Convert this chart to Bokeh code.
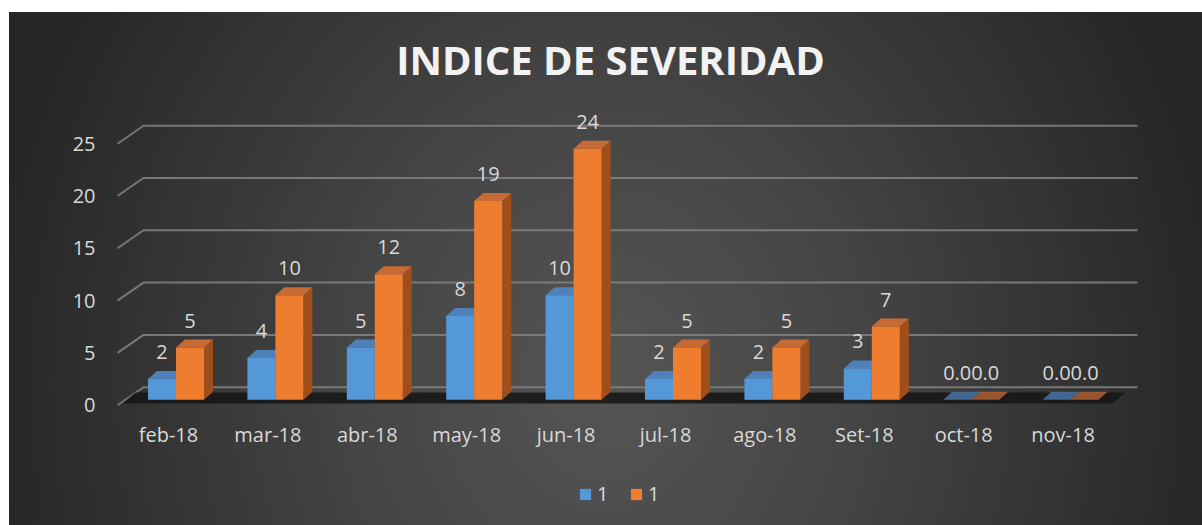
from bokeh.plotting import figure
from bokeh.models import Range1d, FixedTicker, Legend, LegendItem
from bokeh.core.properties import value
from bokeh.embed import file_html
from bokeh.resources import INLINE

# ---------------- data ----------------
months = ["feb-18", "mar-18", "abr-18", "may-18", "jun-18",
          "jul-18", "ago-18", "Set-18", "oct-18", "nov-18"]
serie_azul = [2, 4, 5, 8, 10, 2, 2, 3, 0, 0]
serie_naranja = [5, 10, 12, 19, 24, 5, 5, 7, 0, 0]
series_names = ["1", "1"]
y_ticks = [0, 5, 10, 15, 20, 25]
title_text = "INDICE DE SEVERIDAD"

# ---------------- layout constants (page pixels) ----------------
FIG_X0, FIG_Y0 = 9, 12
W, H = 1193, 513
FRAME_L = 105
PX_X, X0_PX = 99.4, 168.0     # px per category, page x of first category
PX_Y, Y0_PX = 10.46, 404.7    # px per unit, page y of value 0 tick


def px(P):
    return (P - X0_PX) / PX_X


def py(P):
    return (Y0_PX - P) / PX_Y


def dx(d):
    return d / PX_X


def dy(d):
    return d / PX_Y


TXT = "#d9d9d9"
FONT = "Open Sans"

p = figure(width=W, height=H, output_backend="svg", toolbar_location=None,
           x_range=Range1d(px(FRAME_L), px(FIG_X0 + W)),
           y_range=Range1d(py(FIG_Y0 + H), py(FIG_Y0)),
           min_border_left=FRAME_L - FIG_X0, min_border_right=0,
           min_border_top=0, min_border_bottom=0)
p.background_fill_color = None
p.border_fill_color = None
p.outline_line_color = None
p.styles = {
    "background": "radial-gradient(ellipse 52% 140% at 50% 72%, #555555 0%, #454545 40%, #262626 100%)",
    "margin-left": "9px",
    "margin-top": "12px",
    "border-radius": "0px",
}
p.xgrid.visible = False
p.ygrid.visible = False

# axes
for ax in (p.xaxis[0], p.yaxis[0]):
    ax.axis_line_color = None
    ax.major_tick_line_color = None
    ax.minor_tick_line_color = None
    ax.major_tick_out = 0
    ax.major_tick_in = 0
    ax.major_label_text_color = TXT
    ax.major_label_text_font = FONT
    ax.major_label_text_font_size = "20px"
p.yaxis.ticker = FixedTicker(ticks=y_ticks)
p.yaxis.major_label_standoff = 10
p.xaxis.ticker = FixedTicker(ticks=list(range(len(months))))
p.xaxis.major_label_overrides = {i: m for i, m in enumerate(months)}
p.xaxis.major_label_standoff = -105

# back-wall gridlines with perspective slant
gx = [px(117), px(143), px(1137)]
back = dy(18)
p.multi_line(xs=[gx for _ in y_ticks],
             ys=[[v, v + back, v + back] for v in y_ticks],
             line_color="#808080", line_width=2, line_alpha=0.9)

# floor shadow
p.patch(x=[px(122), px(1112), px(1125), px(135)],
        y=[py(403), py(403), py(392), py(392)],
        fill_color="#151515", fill_alpha=0.85, line_color=None)

# 3-D columns
base = py(399.3)
bw = dx(28)
shift = dx(7.5)
ddx, ddy = dx(9), dy(8)
styles = [
    dict(front="#5598d8", top="#4f80b8", side="#3d6c9c"),
    dict(front="#ee7d30", top="#c66a36", side="#9e4f1c"),
]
fronts = []
for s, vals in enumerate([serie_azul, serie_naranja]):
    st = styles[s]
    x0 = [i + shift - bw + s * bw for i in range(len(vals))]
    x1 = [a + bw for a in x0]
    tops = [base + v for v in vals]
    alphas = [1.0 if v > 0 else 0.75 for v in vals]
    p.patches(xs=[[b, b + ddx, b + ddx, b] for b in x1],
              ys=[[base, base + ddy, t + ddy, t] for t in tops],
              fill_color=st["side"], fill_alpha=alphas, line_color=None)
    p.patches(xs=[[a, b, b + ddx, a + ddx] for a, b in zip(x0, x1)],
              ys=[[t, t, t + ddy, t + ddy] for t in tops],
              fill_color=st["top"], fill_alpha=alphas, line_color=None)
    r = p.quad(left=x0, right=x1, bottom=[base] * len(vals), top=tops,
               fill_color=st["front"], line_color=None)
    fronts.append(r)
    p.text(x=[(a + b) / 2 for a, b in zip(x0, x1)],
           y=[t + dy(27) for t in tops],
           text=[str(v) if v else "0.0" for v in vals],
           text_color=TXT, text_font=value(FONT), text_font_size="20px",
           text_align="center", text_baseline="middle")

# title
p.text(x=[px(610)], y=[py(59)], text=[title_text],
       text_color="#f2f2f2", text_font=value(FONT), text_font_size="40px",
       text_font_style="bold", text_align="center", text_baseline="middle")

# legend
legend = Legend(items=[LegendItem(label=series_names[0], renderers=[fronts[0]]),
                       LegendItem(label=series_names[1], renderers=[fronts[1]])],
                orientation="horizontal", location=(473, 18),
                glyph_width=14, glyph_height=14, label_standoff=5, spacing=12,
                padding=0, margin=0, label_text_font=FONT,
                label_text_font_size="20px", label_text_color=TXT,
                background_fill_alpha=0, border_line_alpha=0)
p.add_layout(legend)

open("out.html", "w").write(file_html(p, INLINE))
